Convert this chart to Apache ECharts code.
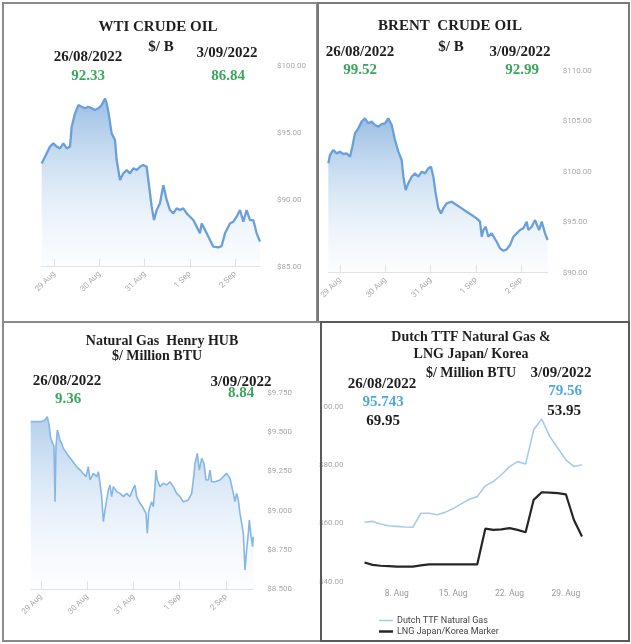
<!DOCTYPE html>
<html><head><meta charset="utf-8">
<script src="https://cdn.jsdelivr.net/npm/echarts@6/dist/echarts.min.js"></script>
<style>html,body{margin:0;padding:0;background:#fff}#c{width:631px;height:644px}</style>
</head><body><div id="c"></div>
<script>
// ---- data ----
const oilTickLabels = ['29 Aug', '30 Aug', '31 Aug', '1 Sep', '2 Sep'];
const oilTickPos = [0, 1, 2, 3, 4];
// position = trading days since 29 Aug (intraday), value = $/bbl
const wtiPos = [-0.280,-0.207,-0.096,-0.022,0.052,0.125,0.199,0.273,0.347,0.384,0.458,0.531,0.605,0.679,0.753,0.827,0.900,0.974,1.048,1.122,1.159,1.196,1.269,1.343,1.380,1.454,1.528,1.601,1.675,1.749,1.823,1.897,1.970,2.044,2.081,2.155,2.207,2.266,2.339,2.413,2.450,2.487,2.561,2.635,2.708,2.782,2.856,2.930,3.004,3.077,3.151,3.225,3.262,3.299,3.373,3.446,3.520,3.631,3.705,3.779,3.889,3.963,4.037,4.111,4.185,4.258,4.332,4.406,4.480,4.554];
const wtiVal = [92.71,93.21,93.96,94.20,93.96,93.83,94.20,93.83,93.96,95.45,96.44,97.06,96.94,96.82,96.94,96.82,96.69,96.82,97.06,97.56,97.19,96.57,94.95,94.45,92.96,91.47,91.97,92.21,91.97,92.34,92.21,92.46,92.59,92.46,91.47,89.48,88.48,89.23,89.73,91.09,90.97,89.98,89.23,88.98,89.35,89.23,89.35,88.98,88.73,88.48,87.99,87.49,88.23,87.99,87.49,86.99,86.49,86.44,86.54,87.49,88.23,88.36,88.73,89.23,88.36,89.23,88.48,88.48,87.49,86.87];
const brentPos = [-0.258,-0.221,-0.147,-0.074,0,0.074,0.147,0.221,0.273,0.331,0.405,0.479,0.552,0.626,0.700,0.773,0.847,0.921,0.994,1.068,1.142,1.215,1.289,1.363,1.400,1.451,1.510,1.584,1.657,1.731,1.805,1.878,1.952,2.011,2.063,2.114,2.173,2.232,2.284,2.357,2.468,2.578,2.689,2.799,2.910,3.020,3.094,3.131,3.168,3.219,3.278,3.352,3.462,3.536,3.610,3.683,3.757,3.831,3.904,3.978,4.052,4.125,4.162,4.236,4.309,4.346,4.398,4.457,4.530,4.589];
const brentVal = [100.84,101.67,102.17,101.83,102.00,101.77,101.83,101.50,102.50,103.82,104.31,104.98,105.31,104.81,104.98,104.64,104.48,104.74,104.81,105.31,104.64,103.16,102.00,101.17,99.52,98.20,98.86,99.52,99.85,99.52,100.02,99.85,100.35,100.51,99.52,97.87,96.38,95.88,96.38,96.88,97.04,96.71,96.38,96.05,95.72,95.39,95.06,93.57,94.23,94.56,93.57,93.90,93.07,92.41,92.18,92.31,92.74,93.57,93.90,94.23,94.40,95.06,94.23,94.56,95.22,95.06,94.23,95.06,93.90,93.24];
const hhPos = [-0.223,-0.094,0.014,0.086,0.137,0.180,0.209,0.252,0.281,0.303,0.324,0.353,0.382,0.411,0.447,0.483,0.555,0.663,0.771,0.879,0.973,1.023,1.059,1.132,1.204,1.240,1.276,1.312,1.348,1.384,1.420,1.456,1.492,1.528,1.564,1.636,1.708,1.780,1.852,1.924,1.996,2.032,2.068,2.141,2.213,2.270,2.299,2.328,2.357,2.393,2.429,2.465,2.486,2.515,2.573,2.645,2.717,2.789,2.861,2.933,3.005,3.077,3.114,3.186,3.258,3.294,3.330,3.380,3.423,3.474,3.524,3.568,3.618,3.654,3.690,3.762,3.870,3.942,4.014,4.086,4.123,4.159,4.195,4.231,4.267,4.303,4.339,4.375,4.411,4.447,4.483,4.505,4.534,4.577,4.591];
const hhVal = [9.566,9.566,9.566,9.576,9.597,9.534,9.460,9.449,9.407,9.057,9.407,9.513,9.523,9.449,9.428,9.396,9.364,9.322,9.280,9.248,9.216,9.280,9.195,9.237,9.216,9.248,9.174,9.089,8.930,9.004,9.068,9.131,9.163,9.089,9.153,9.121,9.110,9.089,9.110,9.089,9.142,9.163,9.089,9.047,9.015,8.983,8.856,8.994,9.025,9.057,9.025,9.153,9.258,9.195,9.153,9.174,9.163,9.184,9.153,9.110,9.089,9.057,9.047,9.068,9.110,9.195,9.301,9.364,9.258,9.333,9.301,9.195,9.195,9.258,9.184,9.184,9.195,9.216,9.237,9.206,9.195,9.110,9.057,9.110,9.068,8.983,8.919,8.856,8.623,8.750,8.856,8.941,8.856,8.771,8.835];
const ttfDates = ['2022-08-04','2022-08-05','2022-08-06','2022-08-07','2022-08-08','2022-08-09','2022-08-10','2022-08-11','2022-08-12','2022-08-13','2022-08-14','2022-08-15','2022-08-16','2022-08-17','2022-08-18','2022-08-19','2022-08-20','2022-08-21','2022-08-22','2022-08-23','2022-08-24','2022-08-25','2022-08-26','2022-08-27','2022-08-28','2022-08-29','2022-08-30','2022-08-31'];
const ttfVal = [60.3,60.6,59.7,59.1,58.9,58.7,58.6,63.4,63.4,62.9,63.7,65.0,66.6,68.2,69.1,72.8,74.3,76.6,79.4,81.1,80.3,92.0,95.7,89.7,85.7,81.7,79.4,80.0];
const lngVal = [46.5,45.7,45.4,45.3,45.1,45.1,45.1,45.5,45.9,45.9,45.9,45.9,45.9,45.9,45.9,58.1,57.7,57.9,58.3,57.7,56.9,68.0,70.6,70.5,70.3,69.9,61.1,55.4];
const ttfTicks = ['2022-08-08','2022-08-15','2022-08-22','2022-08-29'];

// ---- helpers ----
const ts = d => Date.UTC(+d.slice(0, 4), +d.slice(5, 7) - 1, +d.slice(8, 10));
const zip = (a, b) => a.map((v, i) => [v, b[i]]);
const serif = 'bold 15px "Liberation Serif", "DejaVu Serif", serif';
const serif14 = 'bold 14px "Liberation Serif", "DejaVu Serif", serif';
const axisFont = {fontSize: 8, color: '#a8a8a8', fontFamily: 'Roboto, sans-serif'};
function grad(top, bot) {
  return {type: 'linear', x: 0, y: 0, x2: 0, y2: 1, colorStops: [{offset: 0, color: top}, {offset: 1, color: bot}]};
}
function oilX(gi, min, max) {
  return {
    type: 'value', gridIndex: gi, min: min, max: max,
    axisLine: {show: true, lineStyle: {color: '#e2e2e2', width: 1}},
    axisTick: {show: true, inside: true, length: 8, customValues: oilTickPos, lineStyle: {color: '#e0e0e0'}},
    axisLabel: Object.assign({rotate: 45, margin: 6, customValues: oilTickPos,
      formatter: v => oilTickLabels[Math.round(v)]}, axisFont),
    splitLine: {show: false}
  };
}
function oilY(gi, min, max, interval, dec, margin) {
  return {
    type: 'value', gridIndex: gi, position: 'right', min: min, max: max, interval: interval,
    axisLine: {show: false}, axisTick: {show: false}, splitLine: {show: false},
    axisLabel: Object.assign({margin: margin, formatter: v => '$' + v.toFixed(dec)}, axisFont)
  };
}
function txt(x, y, s, font, fill) {
  return {type: 'text', x: x, y: y, z: 100, style: {text: s, font: font, fill: fill, align: 'center', verticalAlign: 'middle'}};
}
const green = '#3aa65c';
const blueTxt = '#4fa6e3';
const ttfX = ttfDates.map(ts);

const chart = echarts.init(document.getElementById('c'), null, {renderer: 'canvas'});
chart.setOption({
  animation: false,
  backgroundColor: '#ffffff',
  grid: [
    {left: 41.7, top: 65.7, width: 218.3, height: 201},
    {left: 328.3, top: 71, width: 219.4, height: 201.7},
    {left: 30.7, top: 392.7, width: 222.6, height: 196.6},
    {left: 364.5, top: 406.5, width: 217.5, height: 175}
  ],
  xAxis: [
    oilX(0, -0.28, 4.554),
    oilX(1, -0.258, 4.589),
    oilX(2, -0.223, 4.591),
    {
      type: 'value', gridIndex: 3, min: ttfX[0], max: ttfX[ttfX.length - 1],
      axisLine: {show: false}, splitLine: {show: false},
      axisTick: {show: false},
      axisLabel: Object.assign({margin: 8, customValues: ttfTicks.map(ts),
        formatter: v => new Date(v).getUTCDate() + '. Aug'}, axisFont, {fontSize: 8.5, color: '#9a9a9a'})
    }
  ],
  yAxis: [
    oilY(0, 85, 100, 5, 2, 17),
    oilY(1, 90, 110, 5, 2, 15),
    oilY(2, 8.5, 9.75, 0.25, 3, 14),
    {
      type: 'value', gridIndex: 3, position: 'left', min: 40, max: 100, interval: 20,
      axisLine: {show: false}, axisTick: {show: false}, splitLine: {show: false},
      axisLabel: Object.assign({margin: 21, formatter: v => '$' + v.toFixed(2)}, axisFont)
    }
  ],
  legend: {
    left: 379, top: 616, orient: 'vertical', padding: 0, itemGap: 2, itemWidth: 14, itemHeight: 9,
    textStyle: {fontSize: 9, color: '#444', fontFamily: 'Roboto, sans-serif', padding: [0, 0, 0, -1]},
    data: [
      {name: 'Dutch TTF Natural Gas', icon: 'path://M0,4 L14,4 L14,5.5 L0,5.5 Z', itemStyle: {color: '#a9cbea'}},
      {name: 'LNG Japan/Korea Marker', icon: 'path://M0,3.5 L14,3.5 L14,6 L0,6 Z', itemStyle: {color: '#262626'}}
    ]
  },
  series: [
    {type: 'line', xAxisIndex: 0, yAxisIndex: 0, data: zip(wtiPos, wtiVal), symbol: 'none',
      lineStyle: {color: '#6aa0da', width: 2.3},
      areaStyle: {color: grad('rgba(92,150,210,0.88)', 'rgba(215,232,248,0.15)')}},
    {type: 'line', xAxisIndex: 1, yAxisIndex: 1, data: zip(brentPos, brentVal), symbol: 'none',
      lineStyle: {color: '#6aa0da', width: 2.3},
      areaStyle: {color: grad('rgba(92,150,210,0.88)', 'rgba(215,232,248,0.15)')}},
    {type: 'line', xAxisIndex: 2, yAxisIndex: 2, data: zip(hhPos, hhVal), symbol: 'none',
      lineStyle: {color: '#86b7e4', width: 1.6},
      areaStyle: {color: grad('rgba(120,170,222,0.8)', 'rgba(220,235,250,0.12)')}},
    {name: 'Dutch TTF Natural Gas', type: 'line', xAxisIndex: 3, yAxisIndex: 3,
      data: zip(ttfX, ttfVal), symbol: 'none', color: '#a9cbea',
      lineStyle: {color: '#a9cbea', width: 1.6}},
    {name: 'LNG Japan/Korea Marker', type: 'line', xAxisIndex: 3, yAxisIndex: 3,
      data: zip(ttfX, lngVal), symbol: 'none', color: '#262626',
      lineStyle: {color: '#262626', width: 2.2}}
  ],
  graphic: [
    {type: 'rect', z: 90, shape: {x: 3, y: 3, width: 314, height: 319}, style: {fill: 'none', stroke: '#8a8a8a', lineWidth: 2}},
    {type: 'rect', z: 90, shape: {x: 318, y: 3, width: 311, height: 319}, style: {fill: 'none', stroke: '#7a7a7a', lineWidth: 2}},
    {type: 'rect', z: 90, shape: {x: 303, y: 398, width: 17, height: 18}, style: {fill: '#fff', stroke: 'none'}},
    {type: 'rect', z: 90, shape: {x: 3, y: 322, width: 318, height: 319}, style: {fill: 'none', stroke: '#8a8a8a', lineWidth: 2}},
    {type: 'rect', z: 91, shape: {x: 321, y: 322, width: 308, height: 319}, style: {fill: 'none', stroke: '#5a5a5a', lineWidth: 2}},
    txt(158, 27, 'WTI CRUDE OIL', serif, '#1e1e1e'),
    txt(161, 47, '$/ B', serif, '#1e1e1e'),
    txt(88, 57, '26/08/2022', serif, '#1e1e1e'),
    txt(227, 53, '3/09/2022', serif, '#1e1e1e'),
    txt(88, 76, '92.33', serif, green),
    txt(228, 76, '86.84', serif, green),
    txt(450, 26, 'BRENT  CRUDE OIL', serif, '#1e1e1e'),
    txt(451, 47, '$/ B', serif, '#1e1e1e'),
    txt(360, 52, '26/08/2022', serif, '#1e1e1e'),
    txt(520, 52, '3/09/2022', serif, '#1e1e1e'),
    txt(360, 70, '99.52', serif, green),
    txt(522, 70, '92.99', serif, green),
    txt(162, 341, 'Natural Gas  Henry HUB', serif14, '#1e1e1e'),
    txt(157, 356, '$/ Million BTU', serif14, '#1e1e1e'),
    txt(67, 381, '26/08/2022', serif, '#1e1e1e'),
    txt(241, 382, '3/09/2022', serif, '#1e1e1e'),
    txt(68, 399, '9.36', serif, green),
    txt(241, 393, '8.84', serif, green),
    txt(471, 337, 'Dutch TTF Natural Gas &', serif14, '#1e1e1e'),
    txt(471, 354, 'LNG Japan/ Korea', serif14, '#1e1e1e'),
    txt(471, 373, '$/ Million BTU', serif14, '#1e1e1e'),
    txt(561, 373, '3/09/2022', serif, '#1e1e1e'),
    txt(382, 384, '26/08/2022', serif, '#1e1e1e'),
    txt(383, 402, '95.743', serif, blueTxt),
    txt(383, 421, '69.95', serif, '#1e1e1e'),
    txt(565, 391, '79.56', serif, blueTxt),
    txt(564, 411, '53.95', serif, '#1e1e1e')
  ]
});
</script>
</body></html>
